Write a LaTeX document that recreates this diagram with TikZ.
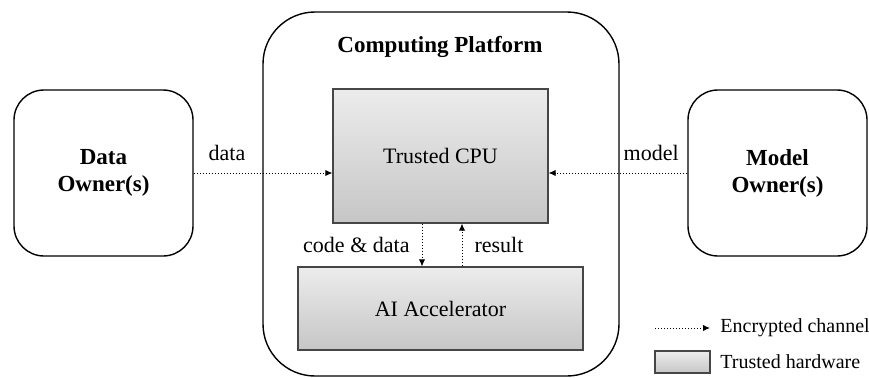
\documentclass[tikz,border=0pt]{standalone}
\usepackage{fontspec}
\setmainfont{Liberation Serif}
\usetikzlibrary{arrows.meta}

\definecolor{hwtop}{RGB}{236,236,236}
\definecolor{hwbot}{RGB}{198,198,198}
\definecolor{hwline}{RGB}{70,70,70}

\tikzset{
  ownerbox/.style={draw, rounded corners=15pt, line width=0.7pt, align=center, minimum width=89.5pt, minimum height=83pt, font=\fontsize{11.5}{13.5}\selectfont\bfseries},
  platbox/.style={draw, rounded corners=26pt, line width=0.7pt, minimum width=178pt, minimum height=182pt},
  hwbox/.style={draw=hwline, line width=0.6pt, top color=hwtop, bottom color=hwbot, align=center, font=\fontsize{11}{13}\selectfont},
  encarr/.style={-{Latex[length=3.5pt,width=3.2pt]}, densely dotted, line width=0.5pt},
  arrlab/.style={font=\fontsize{11}{13}\selectfont, inner sep=1pt},
  leglab/.style={font=\fontsize{10}{12}\selectfont, anchor=west, inner sep=0pt}
}

\begin{document}
\begin{tikzpicture}[x=0.5pt,y=0.5pt]
        \useasboundingbox (0,0) rectangle (869,377);

        % outer boxes
        \node[platbox] (platform) at (441,183) {};
        \node[font=\fontsize{11.5}{13.5}\selectfont\bfseries] (title) at (440,330) {Computing Platform};
        \node[ownerbox] (dataown) at (103.5,204) {Data\\Owner(s)};
        \node[ownerbox] (modelown) at (777.5,204) {Model\\Owner(s)};

        % trusted hardware
        \node[hwbox, minimum width=107.5pt, minimum height=67pt] (cpu) at (440.5,221) {Trusted CPU};
        \node[hwbox, minimum width=142.5pt, minimum height=41.5pt] (acc) at (440.5,68.5) {AI Accelerator};

        % encrypted channels
        \draw[encarr] (dataown.east |- 0,204) -- node[arrlab, above=5pt, pos=0.24] {data} (cpu.west |- 0,204);
        \draw[encarr] (modelown.west |- 0,204) -- node[arrlab, above=5pt, pos=0.26] {model} (cpu.east |- 0,204);
        \draw[encarr] (cpu.south -| 422,0) -- node[arrlab, left=5pt] {code \& data} (acc.north -| 422,0);
        \draw[encarr] (acc.north -| 462,0) -- node[arrlab, right=5pt] {result} (cpu.south -| 462,0);

        % legend
        \coordinate (legA) at (655,49);
        \coordinate (legB) at (710,49);
        \draw[encarr] (legA) -- (legB);
        \node[leglab] (legenc) at (720,49) {Encrypted channel};
        \node[hwbox, minimum width=27.5pt, minimum height=11pt] (leghw) at (682.5,15) {};
        \node[leglab] (leghwtxt) at (720,15) {Trusted hardware};
    \end{tikzpicture}
\end{document}
